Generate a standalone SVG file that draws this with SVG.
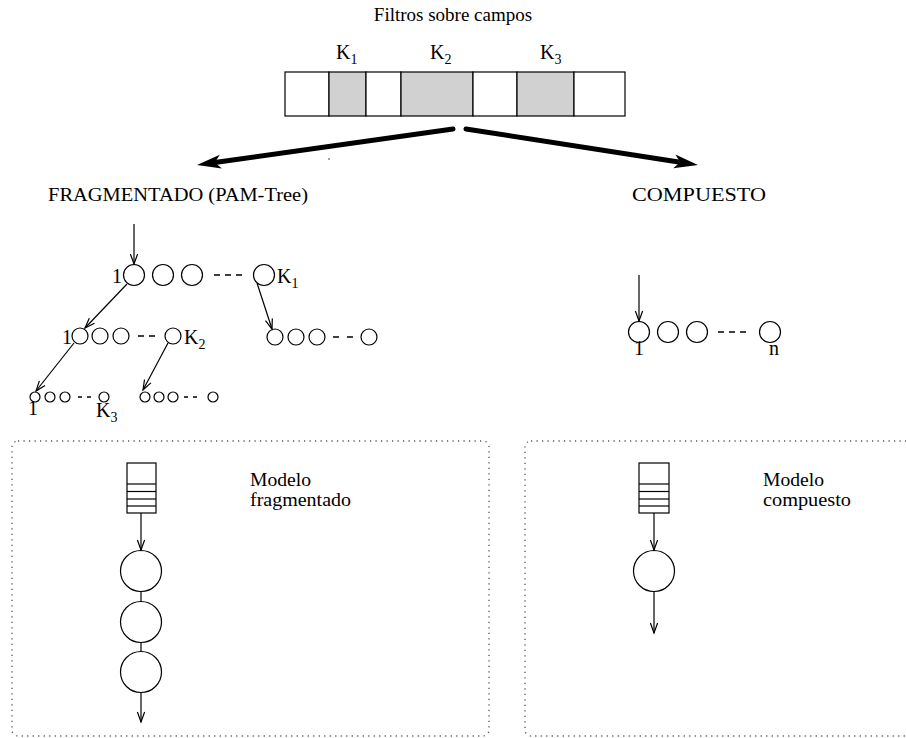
<svg xmlns="http://www.w3.org/2000/svg" width="906" height="738" viewBox="0 0 906 738">
  <style>
    text { font-family: "Liberation Serif", "Times New Roman", serif; font-size: 19px; fill: #000; }
    .k { font-size: 20px; }
    .sub { font-size: 14px; }
    .ln { stroke: #000; stroke-width: 1.2; fill: none; }
    .nd { stroke: #000; stroke-width: 1.2; fill: #fff; }
    .cell { stroke: #000; stroke-width: 1.2; fill: #fff; }
    .key { fill: #d1d1d1; }
    .dots { stroke: #555; stroke-width: 1.3; fill: none; stroke-dasharray: 1.2 4.3; }
    .dash { stroke: #000; stroke-width: 1.3; }
    .arr { stroke: #000; stroke-width: 1.2; fill: none; marker-end: url(#v); }
  </style>
  <defs>
    <marker id="v" markerUnits="userSpaceOnUse" markerWidth="14" markerHeight="12" viewBox="-12 -6 14 12" refX="0" refY="0" orient="auto">
      <path d="M-10,-3.6 L0,0 L-10,3.6" fill="none" stroke="#000" stroke-width="1.2"/>
    </marker>
  </defs>

  <rect width="906" height="738" fill="#fff"/>

  <!-- record of fields with key filters -->
  <g id="record">
    <text x="453" y="21" text-anchor="middle">Filtros sobre campos</text>
    <rect class="cell" x="285" y="72" width="44" height="44"/>
    <rect class="cell key" x="329" y="72" width="37" height="44"/>
    <rect class="cell" x="366" y="72" width="35" height="44"/>
    <rect class="cell key" x="401" y="72" width="72" height="44"/>
    <rect class="cell" x="473" y="72" width="44" height="44"/>
    <rect class="cell key" x="517" y="72" width="57" height="44"/>
    <rect class="cell" x="574" y="72" width="51" height="44"/>
    <text class="k" x="336" y="59">K<tspan class="sub" dy="5">1</tspan></text>
    <text class="k" x="430" y="59">K<tspan class="sub" dy="5">2</tspan></text>
    <text class="k" x="540" y="59">K<tspan class="sub" dy="5">3</tspan></text>
  </g>

  <!-- the two ways of building the filter -->
  <g id="split-arrows">
    <line x1="453" y1="129" x2="214.8" y2="162.5" stroke="#000" stroke-width="5" stroke-linecap="round"/>
    <polygon points="197,165 219.8,154.8 214.8,162.5 221.8,168.6" fill="#000"/>
    <line x1="466" y1="129" x2="680.2" y2="162.2" stroke="#000" stroke-width="5" stroke-linecap="round"/>
    <polygon points="698,165 675.4,154.4 680.2,162.2 673.2,168.2" fill="#000"/>
    <circle cx="329" cy="159" r="0.7" fill="#000"/>
  </g>

  <g id="label-fragmentado">
    <text x="48" y="201" textLength="260" lengthAdjust="spacingAndGlyphs">FRAGMENTADO (PAM-Tree)</text>
  </g>
  <g id="label-compuesto">
    <text x="632" y="201" textLength="134" lengthAdjust="spacingAndGlyphs">COMPUESTO</text>
  </g>

  <!-- PAM-Tree: one level per key field -->
  <g id="tree-level1">
    <circle class="nd" cx="134" cy="275" r="10.5"/>
    <circle class="nd" cx="163" cy="275" r="10.5"/>
    <circle class="nd" cx="192" cy="275" r="10.5"/>
    <line class="dash" x1="214" y1="275" x2="244" y2="275" stroke-dasharray="6 5"/>
    <circle class="nd" cx="264" cy="275" r="10.5"/>
    <text class="k" x="112" y="283">1</text>
    <text class="k" x="277" y="283">K<tspan class="sub" dy="5">1</tspan></text>
  </g>
  <g id="tree-level2-left">
    <circle class="nd" cx="80" cy="336" r="8"/>
    <circle class="nd" cx="100" cy="336" r="8"/>
    <circle class="nd" cx="121" cy="336" r="8"/>
    <line class="dash" x1="138" y1="336" x2="156" y2="336" stroke-dasharray="6 5"/>
    <circle class="nd" cx="173" cy="336" r="8"/>
    <text class="k" x="62" y="344">1</text>
    <text class="k" x="184" y="344">K<tspan class="sub" dy="5">2</tspan></text>
  </g>
  <g id="tree-level2-right">
    <circle class="nd" cx="275" cy="337" r="8"/>
    <circle class="nd" cx="296" cy="337" r="8"/>
    <circle class="nd" cx="317" cy="337" r="8"/>
    <line class="dash" x1="333" y1="337" x2="353" y2="337" stroke-dasharray="6 8"/>
    <circle class="nd" cx="369" cy="337" r="8"/>
  </g>
  <g id="tree-level3-left">
    <circle class="nd" cx="35" cy="397" r="5"/>
    <circle class="nd" cx="50" cy="397" r="5"/>
    <circle class="nd" cx="65" cy="397" r="5"/>
    <line class="dash" x1="78" y1="397" x2="95" y2="397" stroke-dasharray="4 5"/>
    <circle class="nd" cx="104" cy="397" r="5"/>
    <text class="k" x="28" y="415">1</text>
    <text class="k" x="96" y="417">K<tspan class="sub" dy="5">3</tspan></text>
  </g>
  <g id="tree-level3-right">
    <circle class="nd" cx="145" cy="397" r="5"/>
    <circle class="nd" cx="159" cy="397" r="5"/>
    <circle class="nd" cx="173" cy="397" r="5"/>
    <line class="dash" x1="184" y1="397" x2="202" y2="397" stroke-dasharray="4 5"/>
    <circle class="nd" cx="213" cy="397" r="5"/>
  </g>

  <!-- composite filter: a single list -->
  <g id="list-compuesto">
    <circle class="nd" cx="639" cy="332" r="10.5"/>
    <circle class="nd" cx="668" cy="332" r="10.5"/>
    <circle class="nd" cx="697" cy="332" r="10.5"/>
    <line class="dash" x1="718" y1="332" x2="746" y2="332" stroke-dasharray="6 5"/>
    <circle class="nd" cx="770" cy="332" r="10.5"/>
    <text class="k" x="634" y="355">1</text>
    <text class="k" x="769" y="355">n</text>
  </g>

  <!-- fragmented model: queue feeding a chain of stages -->
  <g id="modelo-fragmentado">
    <rect class="dots" x="12" y="441" width="477" height="295" rx="6"/>
    <rect class="ln" x="127" y="463" width="29" height="50"/>
    <line class="ln" x1="127" y1="484" x2="156" y2="484"/>
    <line class="ln" x1="127" y1="491.5" x2="156" y2="491.5"/>
    <line class="ln" x1="127" y1="499" x2="156" y2="499"/>
    <line class="ln" x1="127" y1="506" x2="156" y2="506"/>
    <circle class="nd" cx="141" cy="571" r="20.5"/>
    <circle class="nd" cx="141" cy="622" r="20.5"/>
    <circle class="nd" cx="141" cy="672" r="20.5"/>
    <text x="250" y="486" textLength="61" lengthAdjust="spacingAndGlyphs">Modelo</text>
    <text x="250" y="506" textLength="101" lengthAdjust="spacingAndGlyphs">fragmentado</text>
  </g>

  <!-- composite model: queue feeding one stage -->
  <g id="modelo-compuesto">
    <rect class="dots" x="525" y="441" width="392" height="295" rx="6"/>
    <rect class="ln" x="639" y="463" width="30" height="50"/>
    <line class="ln" x1="639" y1="484" x2="669" y2="484"/>
    <line class="ln" x1="639" y1="491.5" x2="669" y2="491.5"/>
    <line class="ln" x1="639" y1="499" x2="669" y2="499"/>
    <line class="ln" x1="639" y1="506" x2="669" y2="506"/>
    <circle class="nd" cx="654" cy="571" r="20.5"/>
    <text x="763" y="486" textLength="61" lengthAdjust="spacingAndGlyphs">Modelo</text>
    <text x="763" y="506" textLength="88" lengthAdjust="spacingAndGlyphs">compuesto</text>
  </g>

  <g id="connectors">
    <line class="arr" x1="134" y1="224" x2="134" y2="264"/>
    <line class="arr" x1="127" y1="284" x2="85" y2="328"/>
    <line class="arr" x1="257" y1="283" x2="272" y2="329"/>
    <line class="arr" x1="74" y1="343" x2="36" y2="391"/>
    <line class="arr" x1="168" y1="343" x2="143" y2="390"/>
    <line class="arr" x1="639" y1="275" x2="639" y2="321"/>
    <line class="arr" x1="141" y1="513" x2="141" y2="550"/>
    <line class="ln" x1="141" y1="591.5" x2="141" y2="601.5"/>
    <line class="ln" x1="141" y1="642.5" x2="141" y2="651.5"/>
    <line class="arr" x1="141" y1="692.5" x2="141" y2="722"/>
    <line class="arr" x1="654" y1="513" x2="654" y2="550"/>
    <line class="arr" x1="654" y1="591.5" x2="654" y2="633"/>
  </g>
</svg>
